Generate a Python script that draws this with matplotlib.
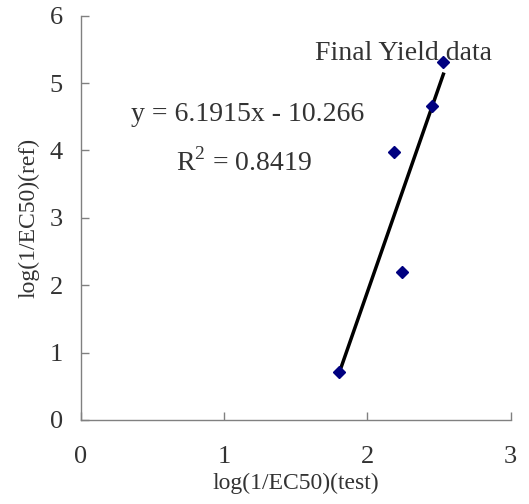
import numpy as np
import matplotlib
matplotlib.use("Agg")
import matplotlib.pyplot as plt

# data
x_test = [1.804, 2.183, 2.24, 2.449, 2.53]
y_ref = [0.71, 3.98, 2.20, 4.66, 5.31]
x_ticks = [0, 1, 2, 3]
y_ticks = [0, 1, 2, 3, 4, 5, 6]
eq_text = "y = 6.1915x - 10.266"
r2_text = "R$^2$ = 0.8419"
title_text = "Final Yield data"

plt.rcParams['font.family'] = ['Liberation Serif', 'DejaVu Serif']
plt.rcParams['mathtext.fontset'] = 'custom'
plt.rcParams['mathtext.rm'] = 'Liberation Serif'

fig = plt.figure(figsize=(5.29, 5.04), dpi=100)
ax = fig.add_axes([0.1531, 0.1667, 0.8123, 0.8021])

# trendline over the data range
coef = np.polyfit(x_test, y_ref, 1)
xs = np.array([min(x_test), max(x_test)])
ax.plot(xs, np.polyval(coef, xs), color='black', lw=2.5, zorder=2)
ax.plot(x_test, y_ref, 'D', color='#000080', markersize=6.5, zorder=3)

ax.set_xlim(0, 3)
ax.set_ylim(0, 6)
ax.set_xticks(x_ticks)
ax.set_yticks(y_ticks)
for s in ['top', 'right']:
    ax.spines[s].set_visible(False)
for s in ['left', 'bottom']:
    ax.spines[s].set_color('#808080')
    ax.spines[s].set_linewidth(1.0)
ax.tick_params(direction='in', length=5.5, width=1.0, color='#808080',
               labelsize=19, labelcolor='#333333')
ax.tick_params(axis='x', pad=19)
ax.tick_params(axis='y', pad=13)

ax.set_xlabel("log(1/EC50)(test)", fontsize=17, color='#333333', labelpad=3)
ax.set_ylabel("log(1/EC50)(ref)", fontsize=17, color='#333333', labelpad=7)

ax.text(2.255, 5.44, title_text, fontsize=20, color='#333333', ha='center', va='center')
ax.text(1.16, 4.54, eq_text, fontsize=20, color='#333333', ha='center', va='center')
ax.text(1.14, 3.83, r2_text, fontsize=20, color='#333333', ha='center', va='center')

fig.savefig("out.png", dpi=100)
